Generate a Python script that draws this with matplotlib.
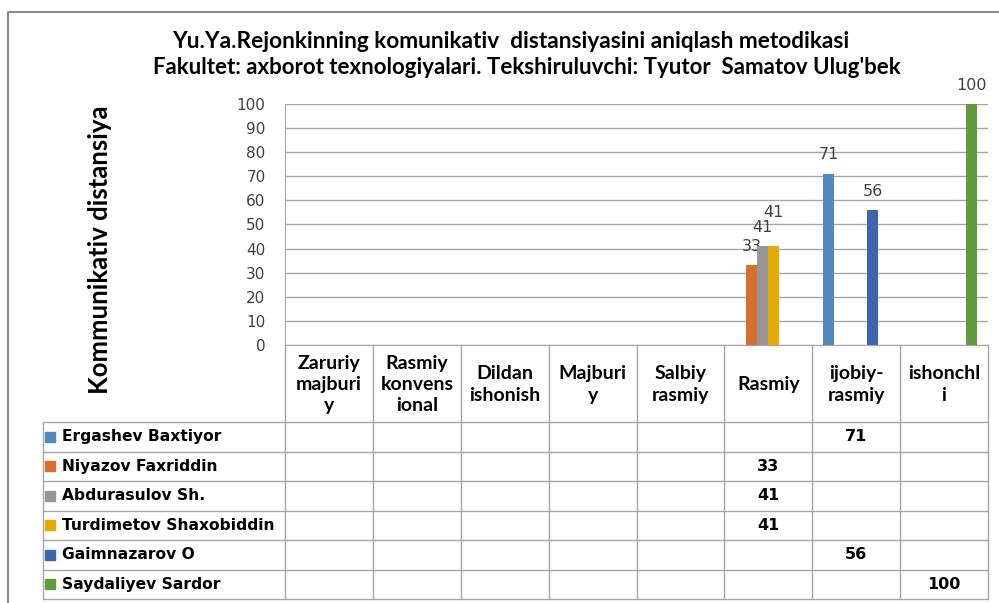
import matplotlib
matplotlib.use("Agg")
import matplotlib.pyplot as plt
import numpy as np

plt.rcParams['font.family'] = ['Lato', 'DejaVu Sans']

# data
categories = ["Zaruriy\nmajburi\ny", "Rasmiy\nkonvens\nional", "Dildan\nishonish",
              "Majburi\ny", "Salbiy\nrasmiy", "Rasmiy", "ijobiy-\nrasmiy", "ishonchl\ni"]
names = ["Ergashev Baxtiyor", "Niyazov Faxriddin", "Abdurasulov Sh.",
         "Turdimetov Shaxobiddin", "Gaimnazarov O", "Saydaliyev Sardor"]
n = np.nan
ergashev = [n, n, n, n, n, n, 71, n]
niyazov = [n, n, n, n, n, 33, n, n]
abdurasulov = [n, n, n, n, n, 41, n, n]
turdimetov = [n, n, n, n, n, 41, n, n]
gaimnazarov = [n, n, n, n, n, n, 56, n]
saydaliyev = [n, n, n, n, n, n, n, 100]
series = [ergashev, niyazov, abdurasulov, turdimetov, gaimnazarov, saydaliyev]
yticks = list(range(0, 101, 10))

colors = ['#4F89BF', '#D7702E', '#969696', '#E4AA00', '#3D65AD', '#629A3E']
title1 = "Yu.Ya.Rejonkinning komunikativ  distansiyasini aniqlash metodikasi"
title2 = "Fakultet: axborot texnologiyalari. Tekshiruluvchi: Tyutor  Samatov Ulug'bek"
ylabel = "Kommunikativ distansiya"

W, H = 999, 603
fig = plt.figure(figsize=(W / 100, H / 100), dpi=100)

# plot area in pixels
px_l, px_r, px_t, px_b = 285, 988, 104, 345
ax = fig.add_axes([px_l / W, 1 - px_b / H, (px_r - px_l) / W, (px_b - px_t) / H])

x = np.arange(len(categories))
bw = 1 / 8
for i, vals in enumerate(series):
    xs = x + (i - 2.5) * bw
    ax.bar(xs, vals, width=bw, color=colors[i], zorder=3)
    for xi, v in zip(xs, vals):
        if np.isnan(v):
            continue
        extra = 15 if i == 3 else 0  # Excel nudged the overlapping label
        ax.annotate(f"{v:.0f}", (xi, v), xytext=(0, 19 + extra), textcoords='offset pixels',
                    ha='center', va='center', fontsize=11.5, color='#404040',
                    family='DejaVu Sans')

ax.set_xlim(-0.5, len(categories) - 0.5)
ax.set_ylim(0, 100)
ax.set_yticks(yticks)
ax.set_xticks([])
ax.tick_params(axis='y', length=0, labelsize=11, labelcolor='#404040', pad=14)
for t in ax.get_yticklabels():
    t.set_family('DejaVu Sans')
ax.yaxis.grid(True, color='#A6A6A6', linewidth=1)
ax.set_axisbelow(True)
for s in ['top', 'right']:
    ax.spines[s].set_visible(False)
ax.spines['left'].set_color('#A6A6A6')
ax.spines['bottom'].set_color('#A6A6A6')
ax.patch.set_alpha(0)

# overlay in pixel coordinates for title, frame and data table
ov = fig.add_axes([0, 0, 1, 1], zorder=-1)
ov.set_xlim(0, W)
ov.set_ylim(H, 0)
ov.axis('off')

# chart frame
ov.plot([8, 8, W], [H, 11.5, 11.5], color='#8C8C8C', lw=1.5)

ov.text(511, 42, title1, ha='center', va='center', fontsize=16.3, fontweight='bold')
ov.text(527, 68, title2, ha='center', va='center', fontsize=16, fontweight='bold')
ov.text(100, 250, ylabel, rotation=90, ha='center', va='center', fontsize=18.5,
        fontweight='bold', color='black')

# data table
lc = '#A6A6A6'
col_w = (px_r - px_l) / len(categories)
col_edges = [px_l + k * col_w for k in range(len(categories) + 1)]
header_bot = 422
row_h = (599 - header_bot) / len(names)
row_edges = [header_bot + k * row_h for k in range(len(names) + 1)]
leg_l = 43

for xe in col_edges:
    ov.plot([xe, xe], [px_b, row_edges[-1]], color=lc, lw=1)
ov.plot([leg_l, leg_l], [header_bot, row_edges[-1]], color=lc, lw=1)
for k, ye in enumerate(row_edges):
    ov.plot([leg_l, px_r], [ye, ye], color=lc, lw=1)

for c, lab in enumerate(categories):
    xc = (col_edges[c] + col_edges[c + 1]) / 2
    ov.text(xc, (px_b + header_bot) / 2 + 1, lab, ha='center', va='center', fontsize=14,
            fontweight='bold', linespacing=1.32)

for r, (name, vals) in enumerate(zip(names, series)):
    yc = (row_edges[r] + row_edges[r + 1]) / 2
    ov.add_patch(plt.Rectangle((45, yc - 5), 10, 10, color=colors[r]))
    ov.text(62, yc, name, ha='left', va='center', fontsize=11.2, fontweight='bold',
            family='DejaVu Sans')
    for c, v in enumerate(vals):
        if np.isnan(v):
            continue
        xc = (col_edges[c] + col_edges[c + 1]) / 2
        ov.text(xc, yc, f"{v:.0f}", ha='center', va='center', fontsize=11.5,
                fontweight='bold', family='DejaVu Sans')

fig.savefig("out.png", dpi=100)
